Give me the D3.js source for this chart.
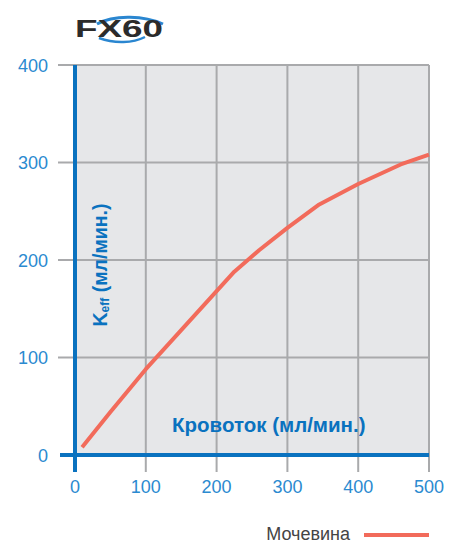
<!DOCTYPE html>
<html>
<head>
<meta charset="utf-8">
<script src="https://cdn.jsdelivr.net/npm/d3@7"></script>
<style>
  body { margin: 0; background: #fff; }
  text { font-family: "Liberation Sans", Arial, sans-serif; }
</style>
</head>
<body>
<div id="chart"></div>
<script>
// Chart data
const xTicks = [0, 100, 200, 300, 400, 500];
const yTicks = [0, 100, 200, 300, 400];
const flow = [10, 50, 100, 150, 200, 225, 260, 300, 345, 400, 460, 500];
const keffUrea = [8, 44, 88, 128, 168, 188, 210, 233, 257, 278, 298, 308];
const seriesName = "Мочевина";

const W = 452, H = 544;
const margin = { top: 65, right: 23, bottom: 87, left: 75 };
const width = W - margin.left - margin.right;
const height = H - margin.top - margin.bottom;

const blue = '#0a72bf';
const tickBlue = '#2b8ad0';
const grid = '#a9aaac';

let xScale = d3.scaleLinear().domain([0, 500]).range([0, width]);
let yScale = d3.scaleLinear().domain([0, 400]).range([height - 2, 0]);

let root = d3.select('#chart').append('svg')
    .attr('width', W)
    .attr('height', H);

let svg = root.append('g')
    .attr('transform', `translate(${margin.left}, ${margin.top})`);

// plot background
svg.append('rect')
    .attr('x', 0).attr('y', 0)
    .attr('width', width).attr('height', height)
    .attr('fill', '#e6e7e9');

// horizontal grid lines (stick out to the left as ticks)
svg.selectAll('.hgrid')
    .data(yTicks.filter(d => d > 0))
    .enter().append('line')
    .attr('x1', -17).attr('x2', width)
    .attr('y1', d => yScale(d)).attr('y2', d => yScale(d))
    .attr('stroke', grid).attr('stroke-width', 2);

// vertical grid lines (stick out below as ticks)
svg.selectAll('.vgrid')
    .data(xTicks.filter(d => d > 0))
    .enter().append('line')
    .attr('x1', d => xScale(d)).attr('x2', d => xScale(d))
    .attr('y1', 0).attr('y2', height + 15)
    .attr('stroke', grid).attr('stroke-width', 2);

// blue axes
svg.append('line')
    .attr('x1', 0).attr('x2', 0)
    .attr('y1', 0).attr('y2', height + 15)
    .attr('stroke', blue).attr('stroke-width', 4);
svg.append('line')
    .attr('x1', -15).attr('x2', width)
    .attr('y1', yScale(0)).attr('y2', yScale(0))
    .attr('stroke', blue).attr('stroke-width', 4);

// tick labels
svg.selectAll('.ylab')
    .data(yTicks)
    .enter().append('text')
    .attr('x', -27)
    .attr('y', d => yScale(d) + 6.5)
    .attr('text-anchor', 'end')
    .attr('font-size', 18)
    .attr('fill', tickBlue)
    .text(d => d);

svg.selectAll('.xlab')
    .data(xTicks)
    .enter().append('text')
    .attr('x', d => xScale(d))
    .attr('y', height + 36)
    .attr('text-anchor', 'middle')
    .attr('font-size', 18)
    .attr('fill', tickBlue)
    .text(d => d);

// axis titles
svg.append('text')
    .attr('x', 97)
    .attr('y', height - 25)
    .attr('font-size', 20.5)
    .attr('font-weight', 'bold')
    .attr('fill', blue)
    .text('Кровоток (мл/мин.)');

let yTitle = svg.append('text')
    .attr('transform', `translate(32, ${yScale(200) + 5}) rotate(-90)`)
    .attr('text-anchor', 'middle')
    .attr('font-size', 19.5)
    .attr('font-weight', 'bold')
    .attr('fill', blue);
yTitle.append('tspan').text('K');
yTitle.append('tspan').attr('font-size', 12).attr('dy', 2).text('eff');
yTitle.append('tspan').attr('dy', -2).text(' (мл/мин.)');

// curve
let line = d3.line()
    .x((d, i) => xScale(flow[i]))
    .y(d => yScale(d));

svg.append('path')
    .datum(keffUrea)
    .attr('fill', 'none')
    .attr('stroke', '#f26b5b')
    .attr('stroke-width', 4)
    .attr('stroke-linejoin', 'round')
    .attr('d', line);

// legend
root.append('text')
    .attr('x', 350).attr('y', 540)
    .attr('text-anchor', 'end')
    .attr('font-size', 18)
    .attr('fill', '#444')
    .text(seriesName);
root.append('line')
    .attr('x1', 364).attr('x2', 429)
    .attr('y1', 535).attr('y2', 535)
    .attr('stroke', '#f26b5b').attr('stroke-width', 4);

// logo
let logo = root.append('g').attr('transform', 'translate(75, 38)');
logo.append('path')
    .attr('d', 'M22,-14 C40,-24 70,-22 88,-14')
    .attr('fill', 'none').attr('stroke', '#2a86d0').attr('stroke-width', 3);
logo.append('path')
    .attr('d', 'M24,0 C40,6 58,5 70,-1')
    .attr('fill', 'none').attr('stroke', '#2a86d0').attr('stroke-width', 2.5);
logo.append('text')
    .attr('x', 0).attr('y', -1)
    .attr('font-family', 'DejaVu Sans')
    .attr('font-size', 24)
    .attr('font-weight', 'bold')
    .attr('fill', '#2b2b2b')
    .attr('textLength', 88)
    .attr('lengthAdjust', 'spacingAndGlyphs')
    .text('FX60');
</script>
</body>
</html>
